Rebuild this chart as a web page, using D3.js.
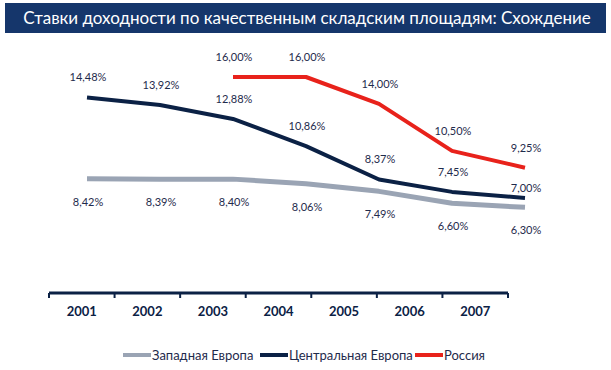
<!DOCTYPE html>
<meta charset="utf-8">
<style>
body { margin: 0; background: #fff; }
text { font-family: "Lato", "Open Sans", sans-serif; }
</style>
<svg width="611" height="370" id="chart"></svg>
<script src="https://d3js.org/d3.v7.min.js"></script>
<script>
var years = ["2001", "2002", "2003", "2004", "2005", "2006", "2007"];
var westEurope = [8.42, 8.39, 8.40, 8.06, 7.49, 6.60, 6.30];
var centralEurope = [14.48, 13.92, 12.88, 10.86, 8.37, 7.45, 7.00];
var russia = [null, null, 16.00, 16.00, 14.00, 10.50, 9.25];
var seriesNames = ["Западная Европа", "Центральная Европа", "Россия"];
var title = "Ставки доходности по качественным складским площадям: Схождение";

var svg = d3.select("#chart");

// title bar
svg.append("rect")
    .attr("x", 5).attr("y", 3)
    .attr("width", 601).attr("height", 30)
    .attr("fill", "#15366b");
svg.append("text")
    .attr("x", 307).attr("y", 18)
    .attr("dy", "0.35em")
    .attr("text-anchor", "middle")
    .attr("fill", "#fff")
    .attr("font-size", 17)
    .text(title);

// axis uses band positions, lines use their own point positions (as in the source)
var xAxis = d3.scaleBand().domain(years).range([49, 508]);
var x = d3.scalePoint().domain(years).range([87, 525]);
var y = d3.scaleLinear().domain([0, 16]).range([292, 77]);

var navy = "#0b2145";
var textCol = "#1f2b4c";

var axisG = svg.append("g")
    .attr("transform", "translate(0,293)")
    .call(d3.axisBottom(xAxis).tickSize(0).tickPadding(14));
axisG.select(".domain").remove();
axisG.append("line")
    .attr("x1", xAxis.range()[0]).attr("x2", xAxis.range()[1])
    .attr("stroke", navy).attr("stroke-width", 3);
axisG.selectAll(".sep")
    .data(years.concat(["end"]))
    .enter().append("line")
    .attr("class", "sep")
    .attr("x1", function(d, i) { return xAxis.range()[0] + i * xAxis.step(); })
    .attr("x2", function(d, i) { return xAxis.range()[0] + i * xAxis.step(); })
    .attr("y1", 0).attr("y2", 5)
    .attr("stroke", navy).attr("stroke-width", 2);
axisG.selectAll(".tick text")
    .attr("fill", navy)
    .attr("font-size", 13)
    .attr("font-weight", "bold");

var line = d3.line()
    .defined(function(d) { return d != null; })
    .x(function(d, i) { return x(years[i]); })
    .y(function(d) { return y(d); });

var series = [
    {name: seriesNames[0], values: westEurope, color: "#9aa4b4", width: 5, dy: 23},
    {name: seriesNames[1], values: centralEurope, color: navy, width: 4, dy: -20},
    {name: seriesNames[2], values: russia, color: "#e8221b", width: 4, dy: -20}
];

function fmt(v) { return v.toFixed(2).replace(".", ",") + "%"; }

series.forEach(function(s, si) {
    svg.append("path")
        .datum(s.values)
        .attr("fill", "none")
        .attr("stroke", s.color)
        .attr("stroke-width", s.width)
        .attr("stroke-linejoin", "round")
        .attr("d", line);

    svg.append("g").selectAll("text")
        .data(s.values.map(function(v, i) { return {v: v, i: i}; })
                      .filter(function(d) { return d.v != null; }))
        .enter().append("text")
        .attr("x", function(d) { return x(years[d.i]) + 1; })
        .attr("y", function(d) {
            var off = s.dy;
            if (si === 1 && d.i === 6) off = -10;
            return y(d.v) + off;
        })
        .attr("dy", "0.35em")
        .attr("text-anchor", "middle")
        .attr("font-size", 11)
        .attr("fill", textCol)
        .text(function(d) { return fmt(d.v); });
});

// legend
var legendX = [123, 260, 415];
var legend = svg.append("g").selectAll("g")
    .data(series)
    .enter().append("g")
    .attr("transform", function(d, i) { return "translate(" + legendX[i] + ",355)"; });
legend.append("line")
    .attr("x1", 0).attr("x2", 28)
    .attr("stroke", function(d) { return d.color; })
    .attr("stroke-width", 4);
legend.append("text")
    .attr("x", 29)
    .attr("dy", "0.35em")
    .attr("font-size", 13)
    .attr("fill", textCol)
    .text(function(d) { return d.name; });
</script>
